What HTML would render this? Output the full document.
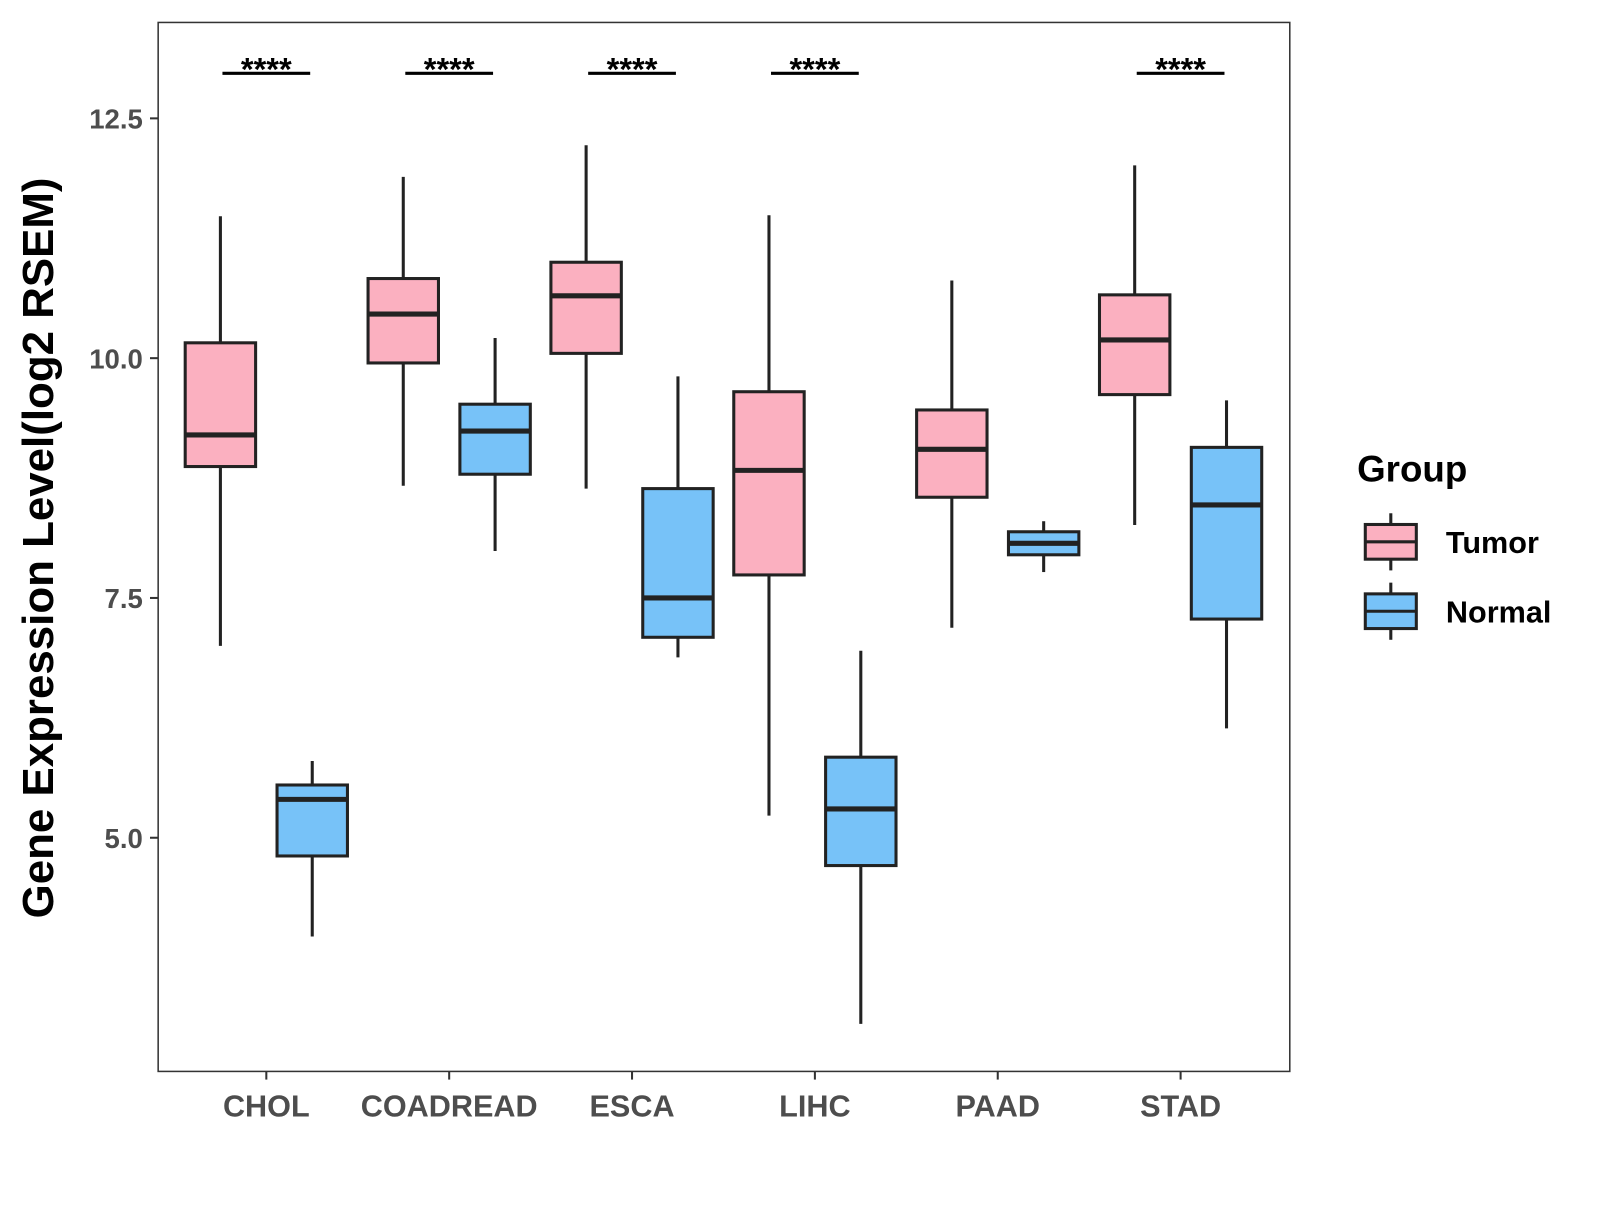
<!DOCTYPE html>
<html><head><meta charset="utf-8"><style>
body{margin:0;background:#fff}
svg text{font-family:"Liberation Sans",Arial,sans-serif;font-weight:bold}
</style></head><body>
<svg id="chart" width="1600" height="1200" viewBox="0 0 1600 1200" xmlns="http://www.w3.org/2000/svg">
<rect width="1600" height="1200" fill="#fff"/>
<g transform="scale(1.0204)">
<g id="plot"></g>
<rect x="155" y="22" width="1109" height="1028" fill="none" stroke="#333" stroke-width="1.5"/>
<text transform="translate(52,537) rotate(-90)" text-anchor="middle" font-size="43" fill="#000">Gene Expression Level(log2 RSEM)</text>
<g>
<text x="1330" y="472" font-size="36" fill="#000">Group</text>
<g>
<line x1="1363" y1="503" x2="1363" y2="559" stroke="#222" stroke-width="3"/>
<rect x="1338" y="514" width="50" height="34" fill="#FBB0C0" stroke="#222" stroke-width="3"/>
<line x1="1338" y1="531" x2="1388" y2="531" stroke="#222" stroke-width="3"/>
<text x="1417" y="542" font-size="30" fill="#000">Tumor</text></g>
<g>
<line x1="1363" y1="571" x2="1363" y2="627" stroke="#222" stroke-width="3"/>
<rect x="1338" y="582" width="50" height="34" fill="#77C2F8" stroke="#222" stroke-width="3"/>
<line x1="1338" y1="599" x2="1388" y2="599" stroke="#222" stroke-width="3"/>
<text x="1417" y="610" font-size="30" fill="#000">Normal</text></g>
</g>
</g>
</svg>
<script>
const categories=["CHOL","COADREAD","ESCA","LIHC","PAAD","STAD"];
const tumorStats=[[7.0,8.87,9.20,10.16,11.48],[8.67,9.95,10.46,10.83,11.89],[8.64,10.05,10.65,11.0,12.22],[5.23,7.74,8.83,9.65,11.49],[7.19,8.55,9.05,9.46,10.81],[8.26,9.62,10.19,10.66,12.01]];
const normalStats=[[3.97,4.81,5.40,5.55,5.80],[7.99,8.79,9.24,9.52,10.21],[6.88,7.09,7.5,8.64,9.81],[3.06,4.71,5.30,5.84,6.95],[7.77,7.95,8.07,8.19,8.30],[6.14,7.28,8.47,9.07,9.56]];
const sigLabels=["****","****","****","****","","****"];
const yTicks=[5.0,7.5,10.0,12.5];
const sigLevel=12.97;

const NS="http://www.w3.org/2000/svg";
const g=document.getElementById("plot");
const y=v=>351-(v-10)*94;
const x=i=>261+i*179.2;
function el(t,a,p){const e=document.createElementNS(NS,t);for(const k in a)e.setAttribute(k,a[k]);(p||g).appendChild(e);return e;}
yTicks.forEach(t=>{
  const tk=el("line",{x1:147,x2:155,y1:y(t),y2:y(t),stroke:"#333","stroke-width":2});
  
  
  const lb=el("text",{x:140,y:y(t)+10,"text-anchor":"end","font-size":27,fill:"#4d4d4d"});
  lb.textContent=t.toFixed(1);
  
  
});
function box(cx,s,fill,name){
  const grp=el("g",{});
  
  
  const w=69;
  el("line",{x1:cx,x2:cx,y1:y(s[4]),y2:y(s[0]),stroke:"#222","stroke-width":3},grp);
  el("rect",{x:cx-w/2,y:y(s[3]),width:w,height:y(s[1])-y(s[3]),fill:fill,stroke:"#222","stroke-width":3},grp);
  el("line",{x1:cx-w/2,x2:cx+w/2,y1:y(s[2]),y2:y(s[2]),stroke:"#222","stroke-width":5},grp);
}
categories.forEach((c,i)=>{
  const cx=x(i);
  box(cx-45,tumorStats[i],"#FBB0C0","box-tumor-"+c.toLowerCase());
  box(cx+45,normalStats[i],"#77C2F8","box-normal-"+c.toLowerCase());
  const tk=el("line",{x1:cx,x2:cx,y1:1050,y2:1058,stroke:"#333","stroke-width":2});
  
  
  const lb=el("text",{x:cx,y:1094,"text-anchor":"middle","font-size":30,fill:"#4d4d4d"});
  lb.textContent=c;
  
  
  if(sigLabels[i]){
    const sl=el("line",{x1:cx-43,x2:cx+43,y1:y(sigLevel),y2:y(sigLevel),stroke:"#000","stroke-width":3});
    
    
    const st=el("text",{x:cx,y:y(sigLevel)+7,"text-anchor":"middle","font-size":32,fill:"#000"});
    st.textContent=sigLabels[i];
    
    
  }
});
</script>
</body></html>
